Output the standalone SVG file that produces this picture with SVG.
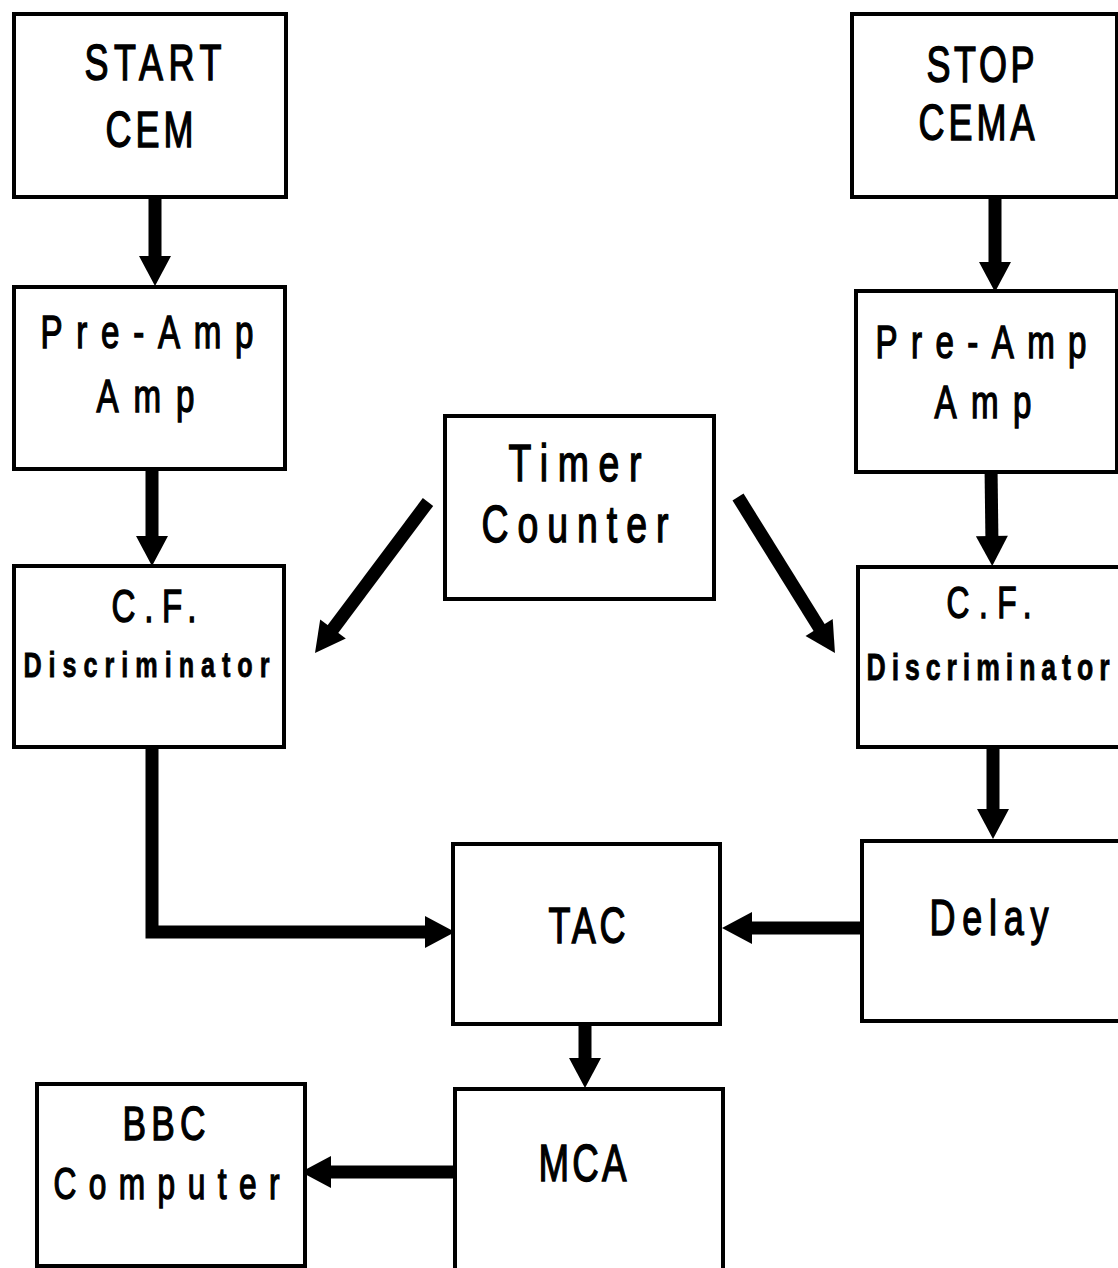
<svg xmlns="http://www.w3.org/2000/svg" width="1118" height="1268" viewBox="0 0 1118 1268">
<style>
.box{fill:#fff;stroke:#000;stroke-width:4}
.lbl{font-family:"Liberation Sans",Arial,sans-serif;fill:#000;stroke:#000;stroke-width:1.4}
.b{font-weight:bold;stroke-width:0.8}
.conn{fill:none;stroke:#000;stroke-width:13;stroke-linejoin:miter;marker-end:url(#ah)}
</style>
<defs>
<marker id="ah" markerUnits="userSpaceOnUse" markerWidth="30" markerHeight="32" viewBox="0 0 30 32" refX="10" refY="16" orient="auto" overflow="visible">
<path d="M0 0 L30 16 L0 32 Z" fill="#000"/>
</marker>
</defs>
<rect width="1118" height="1268" fill="#fff"/>
<g id="connectors">
<path class="conn" d="M155 197 V266"/>
<path class="conn" d="M152 470 V546"/>
<path class="conn" d="M152 747 V932 H435"/>
<path class="conn" d="M428 502 L327 637"/>
<path class="conn" d="M738 497 L824.4 636"/>
<path class="conn" d="M995 197 V272"/>
<path class="conn" d="M991 465 L992 546"/>
<path class="conn" d="M993 748 V819"/>
<path class="conn" d="M862 928 H742"/>
<path class="conn" d="M585 1025 V1068"/>
<path class="conn" d="M455 1172 H321"/>
</g>
<g id="start-cem">
<rect class="box" x="14" y="14" width="272" height="183"/>
<text class="lbl" transform="scale(0.72 1)" x="117.4" y="80" font-size="50" textLength="190.3" lengthAdjust="spacing">START</text>
<text class="lbl" transform="scale(0.72 1)" x="146.5" y="147" font-size="50" textLength="122.2" lengthAdjust="spacing">CEM</text>
</g>
<g id="preamp-left">
<rect class="box" x="14" y="287" width="271" height="182"/>
<text class="lbl" transform="scale(0.72 1)" x="56.25" y="348" font-size="46" textLength="295.8" lengthAdjust="spacing">Pre-Amp</text>
<text class="lbl" transform="scale(0.72 1)" x="134" y="412" font-size="46" textLength="136.1" lengthAdjust="spacing">Amp</text>
</g>
<g id="cf-left">
<rect class="box" x="14" y="566" width="270" height="181"/>
<text class="lbl" transform="scale(0.72 1)" x="154.9" y="622" font-size="46" textLength="118.1" lengthAdjust="spacing">C.F.</text>
<text class="lbl b" transform="scale(0.72 1)" x="32.6" y="677" font-size="35" textLength="341.7" lengthAdjust="spacing">Discriminator</text>
</g>
<g id="timer-counter">
<rect class="box" x="445" y="416" width="269" height="183"/>
<text class="lbl" transform="scale(0.72 1)" x="706.25" y="481" font-size="52" textLength="184.7" lengthAdjust="spacing">Timer</text>
<text class="lbl" transform="scale(0.72 1)" x="668.75" y="542" font-size="52" textLength="259.7" lengthAdjust="spacing">Counter</text>
</g>
<g id="stop-cema">
<rect class="box" x="852" y="14" width="265" height="183"/>
<text class="lbl" transform="scale(0.72 1)" x="1286.8" y="82" font-size="50" textLength="150" lengthAdjust="spacing">STOP</text>
<text class="lbl" transform="scale(0.72 1)" x="1275.7" y="140" font-size="50" textLength="161.1" lengthAdjust="spacing">CEMA</text>
</g>
<g id="preamp-right">
<rect class="box" x="856" y="291" width="261" height="181"/>
<text class="lbl" transform="scale(0.72 1)" x="1216" y="358" font-size="46" textLength="293.1" lengthAdjust="spacing">Pre-Amp</text>
<text class="lbl" transform="scale(0.72 1)" x="1297.9" y="418" font-size="46" textLength="134.7" lengthAdjust="spacing">Amp</text>
</g>
<g id="cf-right">
<rect class="box" x="858" y="567" width="264" height="180"/>
<text class="lbl" transform="scale(0.72 1)" x="1314.6" y="618" font-size="44" textLength="118.1" lengthAdjust="spacing">C.F.</text>
<text class="lbl b" transform="scale(0.72 1)" x="1203.5" y="680" font-size="37" textLength="337.5" lengthAdjust="spacing">Discriminator</text>
</g>
<g id="delay">
<rect class="box" x="862" y="841" width="260" height="180"/>
<text class="lbl" transform="scale(0.72 1)" x="1291" y="935" font-size="50" textLength="165.3" lengthAdjust="spacing">Delay</text>
</g>
<g id="tac">
<rect class="box" x="453" y="844" width="267" height="180"/>
<text class="lbl" transform="scale(0.72 1)" x="761.8" y="943" font-size="50" textLength="106.9" lengthAdjust="spacing">TAC</text>
</g>
<g id="mca">
<rect class="box" x="455" y="1089" width="268" height="190"/>
<text class="lbl" transform="scale(0.72 1)" x="747.9" y="1181" font-size="51" textLength="122.2" lengthAdjust="spacing">MCA</text>
</g>
<g id="bbc-computer">
<rect class="box" x="37" y="1084" width="268" height="182"/>
<text class="lbl" transform="scale(0.72 1)" x="170.1" y="1140" font-size="49" textLength="115.3" lengthAdjust="spacing">BBC</text>
<text class="lbl" transform="scale(0.72 1)" x="74.3" y="1199" font-size="44" textLength="313.9" lengthAdjust="spacing">Computer</text>
</g>
</svg>
